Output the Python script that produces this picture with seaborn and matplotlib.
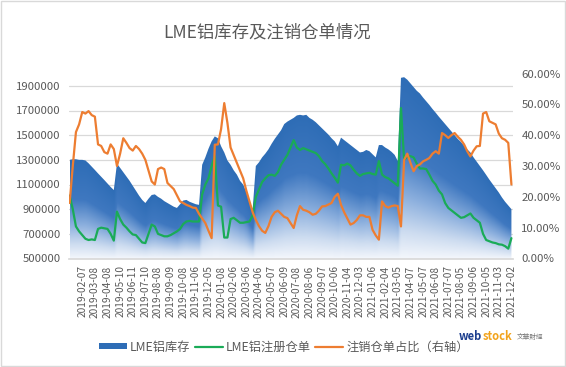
import numpy as np
import pandas as pd
import matplotlib
matplotlib.use("Agg")
import matplotlib.pyplot as plt
from matplotlib.colors import LinearSegmentedColormap
from matplotlib.patches import Patch, Rectangle
from matplotlib.lines import Line2D
import seaborn as sns

# x tick labels (one every 4 samples)
date_labels = [
    "2019-02-07", "2019-03-08", "2019-04-08", "2019-05-10", "2019-06-11", "2019-07-10",
    "2019-08-08", "2019-09-09", "2019-10-08", "2019-11-06", "2019-12-05", "2020-01-08",
    "2020-02-06", "2020-03-06", "2020-04-06", "2020-05-07", "2020-06-09", "2020-07-08",
    "2020-08-06", "2020-09-07", "2020-10-06", "2020-11-04", "2020-12-03", "2021-01-06",
    "2021-02-04", "2021-03-05", "2021-04-07", "2021-05-07", "2021-06-08", "2021-07-07",
    "2021-08-05", "2021-09-06", "2021-10-05", "2021-11-03", "2021-12-02",
]

# LME aluminium stock, thousand tonnes
stock_k = [
    1300, 1305, 1305, 1300, 1300, 1295, 1272, 1245, 1218, 1190,
    1163, 1136, 1108, 1080, 1055, 1270, 1235, 1200, 1165, 1130,
    1090, 1050, 1010, 975, 950, 985, 1015, 1020, 1000, 985,
    965, 950, 935, 920, 910, 940, 970, 975, 960, 950,
    940, 935, 1260, 1320, 1390, 1450, 1490, 1475, 1410, 1360,
    1295, 1260, 1215, 1180, 1130, 1099, 1040, 960, 900, 1250,
    1280, 1320, 1350, 1385, 1430, 1470, 1505, 1540, 1590, 1610,
    1625, 1640, 1660, 1665, 1660, 1665, 1640, 1625, 1605, 1580,
    1555, 1530, 1505, 1475, 1450, 1410, 1480, 1460, 1440, 1420,
    1400, 1380, 1360, 1365, 1380, 1370, 1345, 1320, 1420, 1420,
    1400, 1385, 1365, 1340, 1290, 1965, 1970, 1950, 1920, 1890,
    1860, 1838, 1805, 1775, 1745, 1712, 1682, 1650, 1620, 1590,
    1560, 1530, 1500, 1470, 1445, 1415, 1385, 1360, 1320, 1285,
    1250, 1215, 1178, 1140, 1105, 1070, 1035, 995, 960, 930, 900,
]

# LME aluminium on-warrant stock, thousand tonnes
warrant_k = [
    1010, 900, 760, 720, 690, 660, 650, 655, 650, 740,
    750, 745, 740, 700, 645, 880, 820, 775, 750, 720,
    695, 690, 660, 630, 625, 700, 775, 760, 700, 690,
    680, 680, 690, 705, 720, 740, 780, 800, 805, 800,
    800, 800, 1020, 1100, 1150, 1250, 1330, 930, 920, 670,
    670, 820, 830, 810, 790, 790, 795, 800, 850, 1000,
    1060, 1120, 1150, 1175, 1180, 1170, 1200, 1260, 1300, 1340,
    1400, 1460, 1400, 1380, 1395, 1385, 1375, 1365, 1355, 1330,
    1290, 1265, 1230, 1190, 1155, 1115, 1260, 1255, 1270, 1255,
    1220, 1190, 1170, 1185, 1190, 1195, 1185, 1180, 1290, 1180,
    1160, 1150, 1130, 1110, 1090, 1720, 1300, 1325, 1330, 1320,
    1270, 1230, 1230, 1225, 1180, 1130, 1100, 1050, 1020, 950,
    910, 890, 870, 850, 830, 835, 850, 865, 830, 810,
    790, 700, 650, 640, 630, 625, 615, 612, 600, 580, 665,
]

# cancelled warrants share, percent (right axis)
cancel_pct = [
    18.0, 30.0, 41.0, 43.5, 47.5, 47.0, 47.8, 46.5, 46.0, 37.0,
    36.5, 34.5, 34.0, 37.0, 35.5, 30.0, 34.0, 39.0, 37.5, 35.8,
    35.0, 36.5, 35.5, 34.0, 32.0, 28.5, 25.0, 24.0, 29.0, 29.5,
    29.0, 24.5, 23.5, 22.5, 20.5, 18.5, 18.0, 17.4, 17.0, 16.5,
    16.4, 14.5, 13.0, 11.5, 9.0, 6.6, 36.9, 37.0, 42.0, 50.4,
    44.0, 36.0, 33.5, 31.0, 28.5, 26.0, 22.0, 18.5, 15.0, 12.5,
    10.5, 9.0, 8.3, 10.5, 13.5, 15.0, 15.5, 14.5, 13.5, 13.1,
    11.5, 9.9, 14.0, 17.0, 15.8, 15.5, 15.0, 14.2, 14.5, 15.5,
    16.9, 17.0, 17.5, 18.0, 20.0, 21.0, 17.4, 15.0, 13.0, 11.0,
    11.5, 12.5, 14.0, 14.0, 13.5, 13.5, 9.3, 7.5, 6.1, 18.5,
    17.0, 16.5, 17.0, 17.2, 17.0, 10.4, 32.0, 34.0, 31.0, 28.3,
    30.0, 30.5, 31.5, 32.0, 32.6, 34.0, 34.8, 34.0, 40.7, 40.0,
    39.1, 40.0, 40.7, 39.5, 38.5, 37.0, 34.8, 33.1, 35.0, 36.4,
    36.5, 47.0, 47.5, 44.5, 44.0, 43.5, 40.5, 39.0, 38.5, 37.5, 24.0,
]

BLUE = "#2e6db6"
GREEN = "#1aab57"
ORANGE = "#ed7d31"
TXT = "#595959"
GRID = "#d9d9d9"

sns.set_theme(style="white")
plt.rcParams["font.family"] = ["Noto Sans CJK SC", "DejaVu Sans"]

df = pd.DataFrame({
    "idx": np.arange(len(stock_k)),
    "stock": np.array(stock_k) * 1000,
    "warrant": np.array(warrant_k) * 1000,
    "cancel": np.array(cancel_pct) / 100,
})
n_last = df["idx"].iloc[-1]

fig = plt.figure(figsize=(5.66, 3.67), dpi=100)
ax = fig.add_axes([69 / 566, 1 - 258.5 / 367, 444 / 566, 185 / 367])
ax2 = ax.twinx()

# gradient filled area for stock (each column fades from dark top to light base)
base, top_lim = 500000, 2000000
cmap = LinearSegmentedColormap.from_list(
    "stock_grad",
    [(0.0, "#f4f7fc"), (0.15, "#cddcf0"), (0.35, "#8aaedd"), (0.6, "#3f78c0"), (1.0, BLUE)],
)
xs = np.linspace(0, n_last, 1400)
ys = np.linspace(base, top_lim, 400)
col_top = np.interp(xs, df["idx"], df["stock"])
t = np.clip((ys[:, None] - base) / (col_top[None, :] - base), 0, 1)
im = ax.imshow(cmap(t), extent=(0, n_last, base, top_lim), origin="lower",
               aspect="auto", zorder=1, interpolation="bilinear")
area = ax.fill_between(df["idx"], base, df["stock"], color="none", lw=0, zorder=1)
im.set_clip_path(area.get_paths()[0], transform=ax.transData)

sns.lineplot(data=df, x="idx", y="warrant", ax=ax, color=GREEN, lw=1.6, zorder=3)
sns.lineplot(data=df, x="idx", y="cancel", ax=ax2, color=ORANGE, lw=1.6, zorder=3)

ax.set_xlim(-0.2, n_last + 0.5)
ax.set_ylim(base, top_lim)
yt = list(range(500000, 1900001, 200000))
ax.set_yticks(yt)
ax.set_yticklabels([str(v) for v in yt])
ax.set_xticks([4 * (i + 1) for i in range(len(date_labels))])
ax.set_xticklabels(date_labels, rotation=90)
ax.set_xlabel("")
ax.set_ylabel("")
ax.yaxis.grid(True, color=GRID, lw=0.9, zorder=0)
ax.set_axisbelow(True)
ax.tick_params(axis="both", length=0, colors=TXT)
ax.tick_params(axis="y", labelsize=8.2, pad=6)
ax.tick_params(axis="x", labelsize=7.3, pad=5)
for s in ["top", "left", "right"]:
    ax.spines[s].set_visible(False)
ax.spines["bottom"].set_color(GRID)

ax2.set_ylim(0, 0.6)
rt = np.arange(0, 0.61, 0.1)
ax2.set_yticks(rt)
ax2.set_yticklabels([f"{v:.2%}" for v in rt])
ax2.set_ylabel("")
ax2.tick_params(axis="y", length=0, colors=TXT, labelsize=8.2, pad=6)
for s in ax2.spines.values():
    s.set_visible(False)

fig.text(267 / 566, 1 - 32 / 367, "LME铝库存及注销仓单情况", ha="center", va="center",
         fontsize=12.5, color=TXT)

handles = [
    Patch(facecolor=BLUE, edgecolor="none"),
    Line2D([], [], color=GREEN, lw=1.6),
    Line2D([], [], color=ORANGE, lw=1.6),
]
fig.legend(handles, ["LME铝库存", "LME铝注册仓单", "注销仓单占比（右轴）"],
           loc="center", bbox_to_anchor=(284 / 566, 1 - 347 / 367), ncol=3,
           frameon=False, fontsize=8.8, labelcolor=TXT, handlelength=2.3,
           handleheight=0.45, handletextpad=0.25, columnspacing=0.35)

# data source logo
t_web = fig.text(459 / 566, 1 - 337 / 367, "web", fontsize=8, fontweight="bold",
                 color="#1d3f8f", ha="left", va="center", style="italic")
t_stock = fig.text(0, 0, "stock", fontsize=8, fontweight="bold", color="#f2a31b",
                   style="italic")
fig.canvas.draw()
bb = t_web.get_window_extent()
t_stock.set_position(fig.transFigure.inverted().transform((bb.x1 + 0.5, (bb.y0 + bb.y1) / 2 + 1)))
t_stock.set_va("center")
bb2 = t_stock.get_window_extent()
fig.text(*fig.transFigure.inverted().transform((bb2.x1 + 4, (bb.y0 + bb.y1) / 2)), "文華財經",
         fontsize=4.8, color="#777777", ha="left", va="center")

fig.patches.append(Rectangle((0.001, 0.002), 0.997, 0.995, transform=fig.transFigure,
                             fill=False, edgecolor=GRID, lw=1))

fig.savefig("out.png", dpi=100)
